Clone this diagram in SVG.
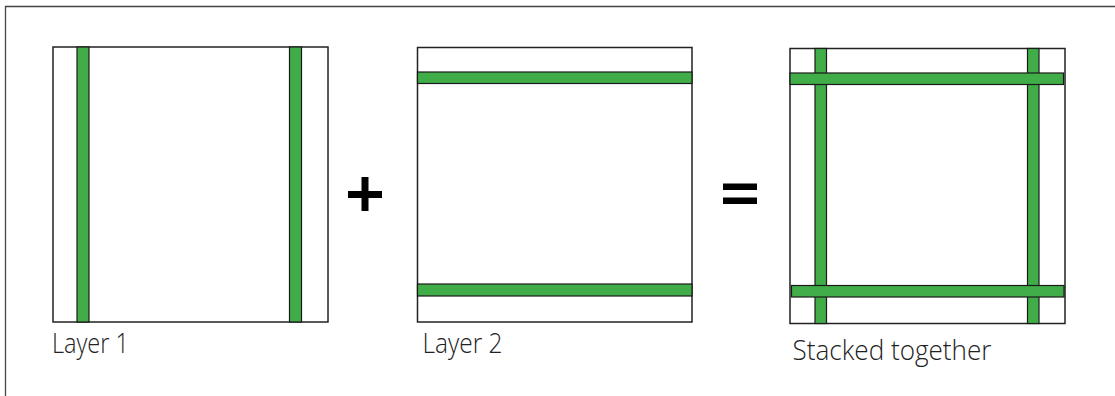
<svg xmlns="http://www.w3.org/2000/svg" width="1115" height="396" viewBox="0 0 1115 396">
<style>
.box{fill:#fff;stroke:#222;stroke-width:1.5}
.bar{fill:#41ad49;stroke:#1a1a1a;stroke-width:1.2}
.lbl{font-family:"Open Sans","Noto Sans",sans-serif;font-weight:300;font-size:27px;fill:#222}
.op{fill:#000}
</style>
<rect width="1115" height="396" fill="#fff"/>
<path d="M5.5 400 V6.5 H1120" fill="none" stroke="#444" stroke-width="1.3"/>
<g id="layer1">
<rect class="box" x="53" y="47" width="275" height="275"/>
<rect class="bar" x="77" y="47" width="12" height="275"/>
<rect class="bar" x="289.5" y="47" width="12" height="275"/>
<text class="lbl" x="52" y="353" textLength="77" lengthAdjust="spacingAndGlyphs">Layer 1</text>
</g>
<g id="plus">
<rect class="op" x="348" y="191" width="34" height="7"/>
<rect class="op" x="361.5" y="177" width="7" height="34"/>
</g>
<g id="layer2">
<rect class="box" x="417.5" y="47.5" width="274.5" height="274.5"/>
<rect class="bar" x="417.5" y="72" width="274.5" height="11.5"/>
<rect class="bar" x="417.5" y="284" width="274.5" height="12"/>
<text class="lbl" x="422.5" y="353" textLength="80" lengthAdjust="spacingAndGlyphs">Layer 2</text>
</g>
<g id="equals">
<rect class="op" x="723" y="183.5" width="34" height="6.5"/>
<rect class="op" x="723" y="197.5" width="34" height="6.5"/>
</g>
<g id="stacked">
<rect class="box" x="790" y="48.5" width="275" height="275"/>
<rect class="bar" x="815" y="48.5" width="11.5" height="275"/>
<rect class="bar" x="1027.5" y="48.5" width="11.5" height="275"/>
<rect class="bar" x="790" y="73" width="273.5" height="11.5"/>
<rect class="bar" x="791.5" y="285.5" width="272.5" height="11.5"/>
<text class="lbl" x="792.5" y="360" textLength="199" lengthAdjust="spacingAndGlyphs">Stacked together</text>
</g>
</svg>
